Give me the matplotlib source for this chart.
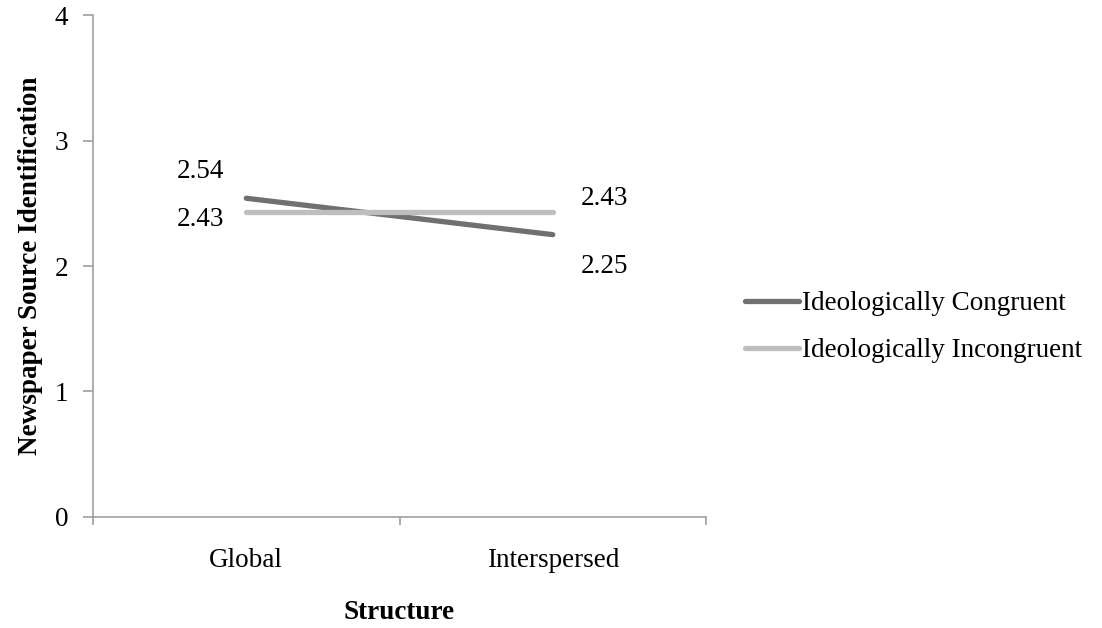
import numpy as np
import matplotlib.pyplot as plt

# Data
categories = ["Global", "Interspersed"]
congruent = [2.54, 2.25]
incongruent = [2.43, 2.43]

plt.rcParams['font.family'] = ['Liberation Serif', 'DejaVu Serif']

fig = plt.figure(figsize=(11.02, 6.28), dpi=100)
ax = fig.add_axes([0.0844, 0.1768, 0.5563, 0.7992])

x = np.arange(len(categories)) + 0.5
dark = "#707070"
light = "#bebebe"
ax.plot(x, congruent, color=dark, lw=3.8, solid_capstyle="round", label="Ideologically Congruent")
ax.plot(x, incongruent, color=light, lw=3.8, solid_capstyle="round", label="Ideologically Incongruent")

# value labels
fs = 19.5
ax.annotate(f"{congruent[0]:.2f}", (x[0], congruent[0]), xytext=(-33, 19), textcoords="offset points",
            ha="center", va="center", fontsize=fs)
ax.annotate(f"{incongruent[0]:.2f}", (x[0], incongruent[0]), xytext=(-33, -5), textcoords="offset points",
            ha="center", va="center", fontsize=fs)
ax.annotate(f"{incongruent[1]:.2f}", (x[1], incongruent[1]), xytext=(37, 10), textcoords="offset points",
            ha="center", va="center", fontsize=fs)
ax.annotate(f"{congruent[1]:.2f}", (x[1], congruent[1]), xytext=(37, -23), textcoords="offset points",
            ha="center", va="center", fontsize=fs)

ax.set_xlim(0, 2)
ax.set_ylim(0, 4)
ax.set_yticks([0, 1, 2, 3, 4])
ax.set_xticks([0, 1, 2])
ax.set_xticklabels([])
ax.set_xticks(x, minor=True)
ax.set_xticklabels(categories, minor=True)
ax.tick_params(axis="x", which="minor", length=0, pad=22, labelsize=fs)
ax.tick_params(axis="x", which="major", length=6, color="#a0a0a0", width=1.2)
ax.tick_params(axis="y", length=7, color="#a0a0a0", width=1.2, labelsize=fs, pad=11)

for s in ["top", "right"]:
    ax.spines[s].set_visible(False)
for s in ["left", "bottom"]:
    ax.spines[s].set_color("#a0a0a0")
    ax.spines[s].set_linewidth(1.2)

ax.set_xlabel("Structure", fontsize=fs, fontweight="bold", labelpad=20)
ax.set_ylabel("Newspaper Source Identification", fontsize=fs, fontweight="bold")
ax.yaxis.set_label_coords(-0.082, 0.5)

fig.legend(loc="center left", bbox_to_anchor=(0.676, 0.479), frameon=False, fontsize=fs,
           handlelength=2.0, handletextpad=0.1, labelspacing=0.82,
           borderaxespad=0, borderpad=0)

fig.savefig("out.png", dpi=100)
